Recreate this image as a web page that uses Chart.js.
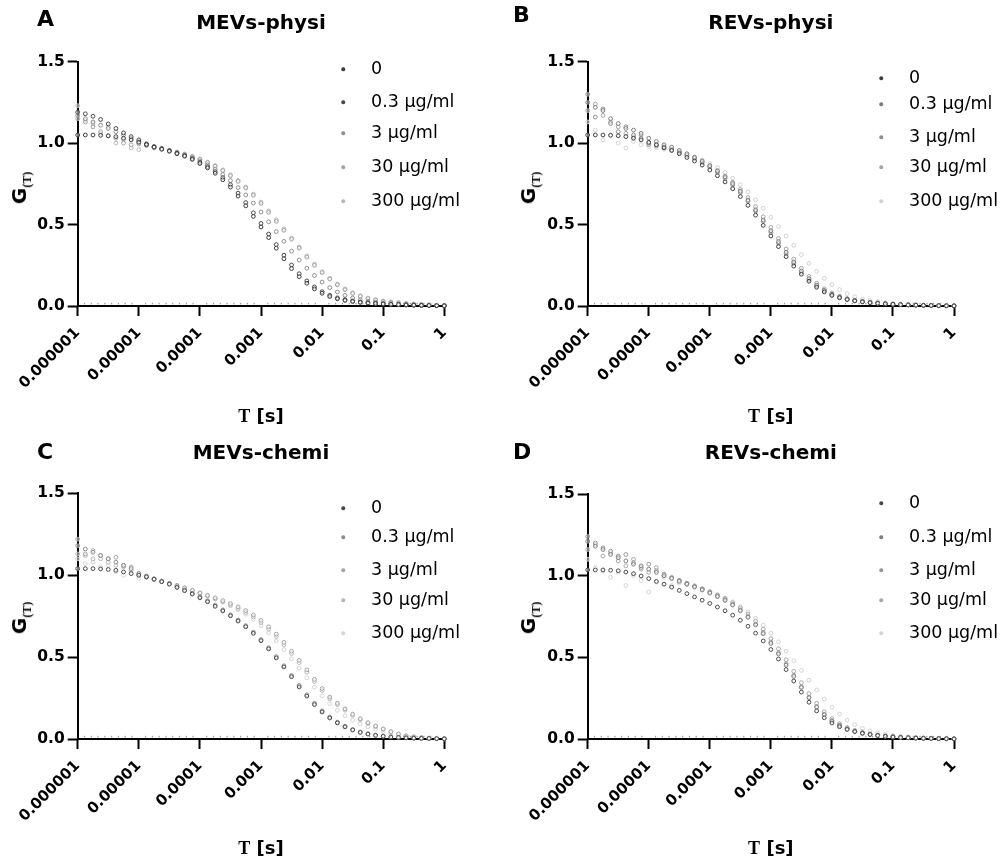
<!DOCTYPE html>
<html>
<head>
<meta charset="utf-8">
<script src="https://cdn.jsdelivr.net/npm/chart.js@4.4.1/dist/chart.umd.min.js"></script>
<style>
  body { margin: 0; background: #fff; }
  #page { position: relative; width: 1006px; height: 861px; overflow: hidden; font-family: "DejaVu Sans", sans-serif; color: #000; }
  .panel { position: absolute; width: 503px; }
  .panel canvas { position: absolute; left: 0; top: 0; }
  .letter { position: absolute; font-weight: bold; font-size: 22px; line-height: 1; transform: translateY(-50%); }
  .title { position: absolute; font-weight: bold; font-size: 20px; line-height: 1; white-space: nowrap; transform: translate(-50%, -50%); }
  .ylab { position: absolute; font-weight: bold; font-size: 20px; line-height: 1; white-space: nowrap; transform: translate(-50%, -50%) rotate(-90deg); }
  .ylab sub { font-size: 12px; font-family: "Liberation Serif", serif; }
  .xlab { position: absolute; font-weight: bold; font-size: 18px; line-height: 1; white-space: nowrap; transform: translate(-50%, -50%); }
  .xlab .tau { font-family: "Liberation Serif", serif; }
  .leg-text { position: absolute; font-size: 17.5px; line-height: 1; white-space: nowrap; transform: translateY(-50%); }
  .leg-dot { position: absolute; width: 3.5px; height: 3.5px; border-radius: 50%; transform: translate(-50%, -50%); }
</style>
</head>
<body>
<div id="page"></div>
<script>
// log10 of the lag time tau [s]
const logTau = [-6, -5.875, -5.75, -5.625, -5.5, -5.375, -5.25, -5.125, -5, -4.875, -4.75, -4.625, -4.5, -4.375, -4.25, -4.125,
  -4, -3.875, -3.75, -3.625, -3.5, -3.375, -3.25, -3.125, -3, -2.875, -2.75, -2.625, -2.5, -2.375, -2.25, -2.125,
  -2, -1.875, -1.75, -1.625, -1.5, -1.375, -1.25, -1.125, -1, -0.875, -0.75, -0.625, -0.5, -0.375, -0.25, -0.125, 0];

const xTickValues = [1e-6, 1e-5, 1e-4, 1e-3, 1e-2, 1e-1, 1];
const xTickLabels = ['0.000001', '0.00001', '0.0001', '0.001', '0.01', '0.1', '1'];
const yTickLabels = ['0.0', '0.5', '1.0', '1.5'];
const seriesLabels = ['0', '0.3 μg/ml', '3 μg/ml', '30 μg/ml', '300 μg/ml'];

// A  MEVs-physi
const mevsPhysi_0 = [1.05, 1.05, 1.05, 1.048, 1.045, 1.04, 1.03, 1.02, 1.005, 0.99, 0.975, 0.962, 0.95, 0.935, 0.92, 0.9, 0.875, 0.848, 0.815, 0.775, 0.73, 0.675, 0.615, 0.55, 0.485, 0.42, 0.355, 0.29, 0.23, 0.18, 0.14, 0.105, 0.078, 0.058, 0.044, 0.034, 0.027, 0.022, 0.018, 0.015, 0.012, 0.01, 0.008, 0.006, 0.005, 0.004, 0.003, 0.002, 0.001];
const mevsPhysi_03 = [1.19, 1.18, 1.165, 1.145, 1.118, 1.09, 1.063, 1.04, 1.02, 0.995, 0.978, 0.965, 0.952, 0.938, 0.923, 0.905, 0.882, 0.856, 0.825, 0.788, 0.745, 0.693, 0.635, 0.572, 0.507, 0.442, 0.377, 0.312, 0.252, 0.198, 0.154, 0.117, 0.088, 0.066, 0.05, 0.039, 0.031, 0.025, 0.02, 0.016, 0.013, 0.011, 0.009, 0.007, 0.005, 0.004, 0.003, 0.002, 0.001];
const mevsPhysi_3 = [1.17, 1.15, 1.13, 1.11, 1.09, 1.07, 1.05, 1.03, 1.01, 0.995, 0.98, 0.968, 0.955, 0.942, 0.927, 0.91, 0.89, 0.867, 0.84, 0.807, 0.77, 0.727, 0.682, 0.632, 0.577, 0.517, 0.457, 0.397, 0.337, 0.282, 0.232, 0.187, 0.147, 0.113, 0.086, 0.065, 0.049, 0.038, 0.03, 0.024, 0.019, 0.015, 0.012, 0.009, 0.007, 0.005, 0.004, 0.003, 0.002];
const mevsPhysi_30 = [1.15, 1.13, 1.1, 1.07, 1.045, 1.03, 1.0, 0.99, 0.995, 0.985, 0.975, 0.965, 0.955, 0.944, 0.931, 0.917, 0.9, 0.881, 0.858, 0.831, 0.8, 0.765, 0.725, 0.68, 0.63, 0.575, 0.52, 0.465, 0.41, 0.355, 0.3, 0.25, 0.205, 0.165, 0.13, 0.1, 0.077, 0.059, 0.046, 0.036, 0.028, 0.022, 0.017, 0.013, 0.01, 0.008, 0.006, 0.004, 0.003];
const mevsPhysi_300 = [1.23, 1.14, 1.12, 1.06, 1.1, 1.0, 1.02, 0.97, 0.96, 0.99, 0.97, 0.97, 0.958, 0.946, 0.934, 0.92, 0.903, 0.884, 0.862, 0.836, 0.806, 0.771, 0.731, 0.687, 0.638, 0.584, 0.529, 0.473, 0.417, 0.362, 0.308, 0.257, 0.211, 0.17, 0.135, 0.105, 0.081, 0.063, 0.049, 0.039, 0.031, 0.026, 0.022, 0.017, 0.013, 0.01, 0.007, 0.005, 0.003];

// B  REVs-physi
const revsPhysi_0 = [1.05, 1.05, 1.05, 1.048, 1.045, 1.04, 1.03, 1.02, 1.005, 0.99, 0.972, 0.955, 0.935, 0.912, 0.89, 0.865, 0.835, 0.8, 0.762, 0.72, 0.672, 0.618, 0.558, 0.495, 0.43, 0.365, 0.303, 0.245, 0.195, 0.152, 0.115, 0.086, 0.065, 0.05, 0.039, 0.031, 0.025, 0.02, 0.016, 0.013, 0.01, 0.008, 0.006, 0.005, 0.004, 0.003, 0.002, 0.001, 0.001];
const revsPhysi_03 = [1.25, 1.22, 1.2, 1.15, 1.12, 1.09, 1.08, 1.06, 1.03, 1.01, 0.99, 0.975, 0.955, 0.935, 0.913, 0.89, 0.862, 0.83, 0.793, 0.752, 0.705, 0.65, 0.59, 0.528, 0.462, 0.395, 0.33, 0.27, 0.215, 0.168, 0.128, 0.096, 0.072, 0.055, 0.043, 0.034, 0.027, 0.022, 0.018, 0.014, 0.011, 0.009, 0.007, 0.005, 0.004, 0.003, 0.002, 0.002, 0.001];
const revsPhysi_3 = [1.3, 1.16, 1.21, 1.12, 1.07, 1.1, 1.05, 1.03, 1.0, 0.99, 0.978, 0.962, 0.945, 0.926, 0.905, 0.88, 0.853, 0.82, 0.784, 0.743, 0.696, 0.643, 0.583, 0.52, 0.452, 0.385, 0.32, 0.26, 0.205, 0.16, 0.122, 0.092, 0.07, 0.054, 0.042, 0.033, 0.027, 0.022, 0.018, 0.014, 0.011, 0.009, 0.007, 0.005, 0.004, 0.003, 0.002, 0.002, 0.001];
const revsPhysi_30 = [1.2, 1.24, 1.17, 1.13, 1.1, 1.06, 1.04, 1.05, 0.99, 0.982, 0.97, 0.958, 0.943, 0.926, 0.907, 0.885, 0.86, 0.83, 0.797, 0.76, 0.716, 0.666, 0.61, 0.548, 0.483, 0.415, 0.35, 0.288, 0.232, 0.182, 0.14, 0.105, 0.079, 0.06, 0.046, 0.036, 0.029, 0.023, 0.019, 0.015, 0.012, 0.01, 0.008, 0.006, 0.004, 0.003, 0.003, 0.002, 0.001];
const revsPhysi_300 = [1.13, 1.08, 1.02, 1.05, 1.0, 0.97, 1.01, 0.99, 0.98, 0.97, 0.962, 0.955, 0.945, 0.93, 0.915, 0.898, 0.876, 0.85, 0.82, 0.785, 0.745, 0.7, 0.652, 0.6, 0.545, 0.488, 0.43, 0.372, 0.315, 0.262, 0.213, 0.17, 0.132, 0.1, 0.076, 0.057, 0.043, 0.033, 0.026, 0.02, 0.016, 0.013, 0.01, 0.008, 0.006, 0.005, 0.004, 0.003, 0.002];

// C  MEVs-chemi
const mevsChemi_0 = [1.04, 1.04, 1.04, 1.038, 1.035, 1.03, 1.02, 1.01, 1.0, 0.99, 0.975, 0.96, 0.945, 0.925, 0.905, 0.885, 0.862, 0.838, 0.81, 0.782, 0.752, 0.72, 0.685, 0.645, 0.6, 0.55, 0.495, 0.44, 0.38, 0.318, 0.262, 0.21, 0.165, 0.128, 0.098, 0.074, 0.055, 0.04, 0.03, 0.022, 0.016, 0.012, 0.009, 0.007, 0.005, 0.004, 0.003, 0.002, 0.001];
const mevsChemi_03 = [1.18, 1.16, 1.14, 1.12, 1.1, 1.08, 1.06, 1.04, 1.01, 0.995, 0.978, 0.963, 0.948, 0.93, 0.91, 0.89, 0.868, 0.844, 0.817, 0.788, 0.758, 0.726, 0.692, 0.652, 0.607, 0.557, 0.503, 0.447, 0.388, 0.327, 0.27, 0.218, 0.172, 0.134, 0.103, 0.078, 0.058, 0.043, 0.032, 0.024, 0.018, 0.013, 0.01, 0.008, 0.006, 0.004, 0.003, 0.002, 0.001];
const mevsChemi_3 = [1.22, 1.13, 1.15, 1.12, 1.1, 1.11, 1.06, 1.05, 1.0, 0.99, 0.978, 0.965, 0.952, 0.938, 0.923, 0.908, 0.893, 0.878, 0.862, 0.845, 0.827, 0.807, 0.784, 0.757, 0.724, 0.685, 0.64, 0.59, 0.536, 0.48, 0.422, 0.364, 0.308, 0.256, 0.218, 0.184, 0.152, 0.124, 0.1, 0.08, 0.062, 0.045, 0.031, 0.02, 0.013, 0.008, 0.005, 0.003, 0.002];
const mevsChemi_30 = [1.13, 1.12, 1.1, 1.1, 1.08, 1.06, 1.05, 1.03, 1.01, 0.99, 0.975, 0.963, 0.95, 0.937, 0.922, 0.906, 0.89, 0.873, 0.856, 0.838, 0.818, 0.797, 0.773, 0.745, 0.711, 0.671, 0.626, 0.576, 0.522, 0.466, 0.408, 0.351, 0.296, 0.246, 0.21, 0.176, 0.145, 0.118, 0.095, 0.076, 0.059, 0.043, 0.03, 0.02, 0.013, 0.008, 0.005, 0.003, 0.002];
const mevsChemi_300 = [1.1, 1.07, 1.08, 1.05, 1.06, 1.02, 1.0, 1.01, 0.98, 0.985, 0.972, 0.96, 0.948, 0.934, 0.92, 0.905, 0.889, 0.872, 0.854, 0.835, 0.813, 0.789, 0.762, 0.73, 0.692, 0.648, 0.599, 0.546, 0.49, 0.432, 0.374, 0.317, 0.264, 0.216, 0.175, 0.142, 0.115, 0.093, 0.075, 0.06, 0.046, 0.034, 0.024, 0.016, 0.01, 0.006, 0.004, 0.003, 0.002];

// D  REVs-chemi
const revsChemi_0 = [1.035, 1.035, 1.035, 1.033, 1.03, 1.022, 1.012, 0.998, 0.982, 0.965, 0.948, 0.93, 0.91, 0.89, 0.87, 0.85, 0.83, 0.808, 0.785, 0.758, 0.727, 0.69, 0.648, 0.6, 0.548, 0.49, 0.425, 0.355, 0.287, 0.225, 0.172, 0.13, 0.098, 0.075, 0.058, 0.045, 0.035, 0.027, 0.021, 0.016, 0.012, 0.009, 0.007, 0.005, 0.004, 0.003, 0.002, 0.001, 0.001];
const revsChemi_03 = [1.21, 1.18, 1.16, 1.13, 1.11, 1.09, 1.07, 1.06, 1.04, 1.02, 1.0, 0.983, 0.965, 0.948, 0.93, 0.912, 0.893, 0.872, 0.848, 0.82, 0.785, 0.745, 0.698, 0.645, 0.585, 0.52, 0.452, 0.383, 0.315, 0.252, 0.195, 0.148, 0.11, 0.082, 0.062, 0.047, 0.036, 0.028, 0.022, 0.017, 0.013, 0.01, 0.008, 0.006, 0.005, 0.004, 0.003, 0.002, 0.001];
const revsChemi_3 = [1.24, 1.2, 1.17, 1.15, 1.12, 1.13, 1.08, 1.05, 1.07, 1.03, 1.01, 0.985, 0.97, 0.952, 0.935, 0.918, 0.898, 0.877, 0.853, 0.825, 0.79, 0.75, 0.704, 0.652, 0.593, 0.528, 0.46, 0.39, 0.32, 0.256, 0.198, 0.15, 0.112, 0.084, 0.063, 0.048, 0.037, 0.029, 0.023, 0.018, 0.014, 0.011, 0.008, 0.006, 0.005, 0.004, 0.003, 0.002, 0.001];
const revsChemi_30 = [1.16, 1.19, 1.12, 1.14, 1.09, 1.06, 1.1, 1.04, 1.02, 1.05, 1.0, 0.99, 0.972, 0.955, 0.938, 0.92, 0.902, 0.882, 0.86, 0.834, 0.802, 0.765, 0.722, 0.672, 0.615, 0.552, 0.485, 0.415, 0.345, 0.278, 0.218, 0.167, 0.125, 0.093, 0.07, 0.053, 0.041, 0.032, 0.025, 0.019, 0.015, 0.011, 0.009, 0.007, 0.005, 0.004, 0.003, 0.002, 0.001];
const revsChemi_300 = [1.1, 1.05, 1.03, 0.99, 1.02, 0.94, 1.0, 0.97, 0.9, 0.96, 0.99, 0.94, 0.955, 0.945, 0.933, 0.918, 0.902, 0.884, 0.864, 0.84, 0.81, 0.778, 0.74, 0.697, 0.648, 0.595, 0.538, 0.48, 0.42, 0.36, 0.3, 0.245, 0.195, 0.152, 0.116, 0.088, 0.066, 0.05, 0.038, 0.029, 0.022, 0.017, 0.013, 0.01, 0.008, 0.006, 0.004, 0.003, 0.002];

// panel layout (pixel geometry only)
const panels = [
  { letter: 'A', title: 'MEVs-physi', left: 0, top: 0, h: 430,
    area: { l: 77.7, r: 444.3, t: 61.7, b: 306 }, letterPos: [37, 18.5], titleY: 22, ylab: [21, 188], xlabY: 416,
    legend: { dot: 343, text: 371, rows: [69, 102, 133, 167, 201] },
    colors: ['#3c3c3c', '#484848', '#8e8e8e', '#a2a2a2', '#b9b9b9'],
    series: [mevsPhysi_0, mevsPhysi_03, mevsPhysi_3, mevsPhysi_30, mevsPhysi_300] },
  { letter: 'B', title: 'REVs-physi', left: 503, top: 0, h: 430,
    area: { l: 84.7, r: 451, t: 61.7, b: 306 }, letterPos: [10, 14.5], titleY: 22, ylab: [27, 188], xlabY: 416,
    legend: { dot: 378, text: 406, rows: [78, 104, 137, 167, 201] },
    colors: ['#404040', '#7c7c7c', '#8e8e8e', '#a4a4a4', '#d2d2d2'],
    series: [revsPhysi_0, revsPhysi_03, revsPhysi_3, revsPhysi_30, revsPhysi_300] },
  { letter: 'C', title: 'MEVs-chemi', left: 0, top: 430, h: 431,
    area: { l: 77.7, r: 444.3, t: 63.3, b: 309 }, letterPos: [37, 21.5], titleY: 22, ylab: [21, 188], xlabY: 418,
    legend: { dot: 343, text: 371, rows: [78, 107, 140, 170, 203] },
    colors: ['#4a4a4a', '#8c8c8c', '#a6a6a6', '#b6b6b6', '#d4d4d4'],
    series: [mevsChemi_0, mevsChemi_03, mevsChemi_3, mevsChemi_30, mevsChemi_300] },
  { letter: 'D', title: 'REVs-chemi', left: 503, top: 430, h: 431,
    area: { l: 84.7, r: 451, t: 64, b: 309 }, letterPos: [10, 21.5], titleY: 22, ylab: [27, 188], xlabY: 418,
    legend: { dot: 378, text: 406, rows: [73, 107, 140, 170, 203] },
    colors: ['#4a4a4a', '#808080', '#969696', '#a8a8a8', '#d4d4d4'],
    series: [revsChemi_0, revsChemi_03, revsChemi_3, revsChemi_30, revsChemi_300] }
];

// little dots along the x axis between decades
const minorDots = {
  id: 'minorDots',
  afterDraw(chart) {
    const { ctx, chartArea, scales } = chart;
    const x = scales.x;
    ctx.save();
    ctx.fillStyle = '#9a9a9a';
    for (let k = 0; k < xTickValues.length - 1; k++) {
      const p0 = x.getPixelForValue(xTickValues[k]);
      const p1 = x.getPixelForValue(xTickValues[k + 1]);
      for (let j = 1; j < 9; j++) {
        const px = p0 + (p1 - p0) * j / 9;
        ctx.fillRect(px - 0.6, chartArea.bottom - 3.2, 1.2, 1.6);
      }
    }
    ctx.restore();
  }
};

const page = document.getElementById('page');

function addText(parent, cls, html, x, y) {
  const el = document.createElement('div');
  el.className = cls;
  el.innerHTML = html;
  el.style.left = x + 'px';
  el.style.top = y + 'px';
  parent.appendChild(el);
  return el;
}

panels.forEach(p => {
  const box = document.createElement('div');
  box.className = 'panel';
  box.style.left = p.left + 'px';
  box.style.top = p.top + 'px';
  box.style.height = p.h + 'px';
  page.appendChild(box);

  const canvas = document.createElement('canvas');
  canvas.width = 503;
  canvas.height = p.h;
  box.appendChild(canvas);

  const cx = (p.area.l + p.area.r) / 2;
  addText(box, 'letter', p.letter, p.letterPos[0], p.letterPos[1]);
  addText(box, 'title', p.title, cx, p.titleY);
  addText(box, 'ylab', 'G<sub>(T)</sub>', p.ylab[0], p.ylab[1]);
  addText(box, 'xlab', '<span class="tau">T</span> [s]', cx, p.xlabY);

  seriesLabels.forEach((lab, i) => {
    const dot = addText(box, 'leg-dot', '', p.legend.dot, p.legend.rows[i]);
    dot.style.background = p.colors[i];
    addText(box, 'leg-text', lab, p.legend.text, p.legend.rows[i]);
  });

  const datasets = p.series.map((vals, i) => ({
    label: seriesLabels[i],
    data: logTau.map((e, j) => ({ x: Math.pow(10, e), y: vals[j] })),
    borderColor: p.colors[i],
    backgroundColor: 'rgba(255,255,255,0.5)',
    pointRadius: 1.9,
    pointBorderWidth: 1,
    pointHoverRadius: 1.9,
    showLine: false,
    clip: false
  }));

  new Chart(canvas, {
    type: 'scatter',
    data: { datasets },
    options: {
      responsive: false,
      animation: false,
      devicePixelRatio: 1,
      layout: { padding: { left: 0, top: p.area.t, right: 503 - p.area.r, bottom: 0 } },
      plugins: { legend: { display: false }, tooltip: { enabled: false } },
      scales: {
        x: {
          type: 'logarithmic',
          min: 1e-6,
          max: 1,
          afterBuildTicks: s => { s.ticks = xTickValues.map(v => ({ value: v })); },
          afterFit: s => { s.height = p.h - p.area.b; },
          border: { color: '#000', width: 2 },
          grid: { drawOnChartArea: false, tickLength: 10, tickWidth: 2, tickColor: '#000' },
          ticks: {
            autoSkip: false,
            minRotation: 45,
            maxRotation: 45,
            padding: 8,
            color: '#000',
            font: { family: 'DejaVu Sans', weight: 'bold', size: 15 },
            callback: (v, i) => xTickLabels[i]
          }
        },
        y: {
          min: 0,
          max: 1.5,
          afterFit: s => { s.width = p.area.l; },
          border: { color: '#000', width: 2 },
          grid: { drawOnChartArea: false, tickLength: 10, tickWidth: 2, tickColor: '#000' },
          ticks: {
            stepSize: 0.5,
            padding: 3,
            color: '#000',
            font: { family: 'DejaVu Sans', weight: 'bold', size: 15.5 },
            callback: (v, i) => yTickLabels[i]
          }
        }
      }
    },
    plugins: [minorDots]
  });
});
</script>
</body>
</html>
